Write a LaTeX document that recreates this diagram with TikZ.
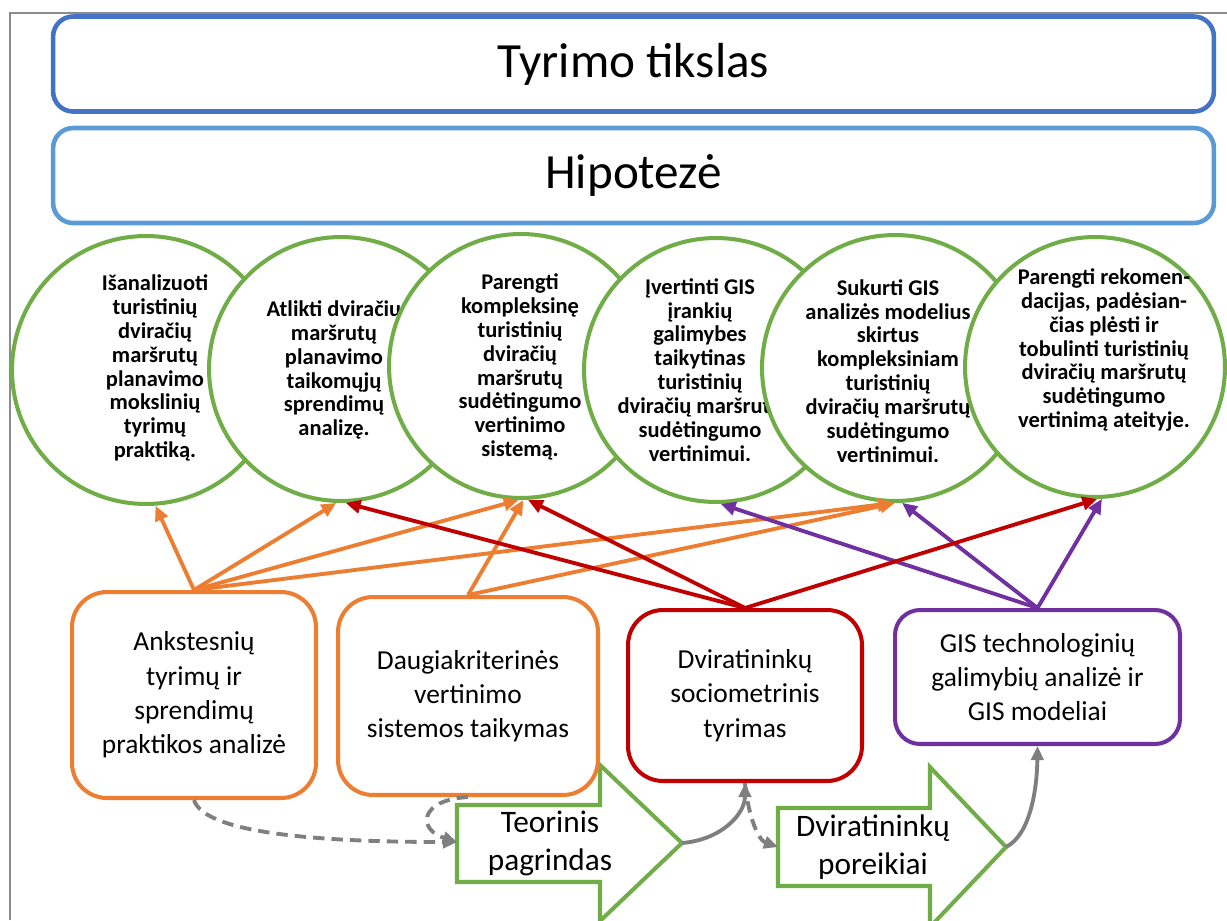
\documentclass[tikz,border=0pt]{standalone}
\usepackage{fontspec}
\setmainfont{Carlito}
\usetikzlibrary{arrows.meta}
\definecolor{titleblue}{RGB}{68,114,196}
\definecolor{hypblue}{RGB}{91,155,213}
\definecolor{goalgreen}{RGB}{112,173,71}
\definecolor{srcorange}{RGB}{237,125,49}
\definecolor{srcred}{RGB}{192,0,0}
\definecolor{srcpurple}{RGB}{112,48,160}
\definecolor{linkgray}{RGB}{127,127,127}
\definecolor{framegray}{RGB}{140,140,140}
\begin{document}
\begin{tikzpicture}[x=0.02cm,y=-0.02cm,
  headbox/.style={draw=#1, line width=2.6pt, rounded corners=0.4cm, fill=white,
    inner sep=0pt, minimum width=23.22cm, minimum height=1.9cm,
    font=\fontsize{28}{34}\selectfont},
  goal/.style={circle, draw=goalgreen, line width=2.3pt, fill=white,
    minimum size=#1, inner sep=0pt},
  goaltext/.style={align=center, inner sep=0pt,
    font=\bfseries\fontsize{12.8}{13.6}\selectfont},
  srcbox/.style={draw=#1, line width=2.3pt, rounded corners=0.7cm, fill=white,
    align=center, inner sep=0pt, font=\fontsize{15.6}{19.5}\selectfont},
  flow/.style={draw=goalgreen, line width=2.3pt, fill=white, line join=miter},
  flowtext/.style={align=center, inner sep=0pt, font=\fontsize{17.8}{21.6}\selectfont},
  link/.style={draw=#1, line width=2.2pt, -{Triangle[length=8.5pt,width=7.5pt]}},
  graylink/.style={draw=linkgray, line width=2.2pt, -{Triangle[length=8pt,width=7pt]}},
  dashlink/.style={graylink, dash pattern=on 6.5pt off 4pt},
]
\useasboundingbox (0,0) rectangle (1227,920);
% page frame
\draw[framegray, line width=1.1pt] (10,920) -- (10,13) -- (1227,13);

% aim and hypothesis
\node[headbox=titleblue] (aim) at (633.5,64) {Tyrimo tikslas};
\node[headbox=hypblue] (hyp) at (633.5,175.5) {Hipotezė};

% task circles, each overlapping the previous one
\node[goal=5.36cm] (g1) at (146,370) {};
\node[goaltext] (g1t) at (155,368) {Išanalizuoti\\turistinių\\dviračių\\maršrutų\\planavimo\\mokslinių\\tyrimų\\praktiką.};
\node[goal=5.28cm] (g2) at (341,369) {};
\node[goaltext] (g2t) at (334,370) {Atlikti dviračių\\maršrutų\\planavimo\\taikomųjų\\sprendimų\\analizę.};
\node[goal=5.28cm] (g3) at (521,366) {};
\node[goaltext] (g3t) at (520,367) {Parengti\\kompleksinę\\turistinių\\dviračių\\maršrutų\\sudėtingumo\\vertinimo\\sistemą.};
\node[goal=5.28cm] (g4) at (716,370) {};
\node[goaltext] (g4t) at (700,370) {Įvertinti GIS\\įrankių\\galimybes\\taikytinas\\turistinių\\dviračių maršrutų\\sudėtingumo\\vertinimui.};
\node[goal=5.32cm] (g5) at (895,368) {};
\node[goaltext] (g5t) at (888,371) {Sukurti GIS\\analizės modelius\\skirtus\\kompleksiniam\\turistinių\\dviračių maršrutų\\sudėtingumo\\vertinimui.};
\node[goal=5.2cm] (g6) at (1095,367) {};
\node[goaltext] (g6t) at (1104,350) {Parengti rekomen-\\dacijas, padėsian-\\čias plėsti ir\\tobulinti turistinių\\dviračių maršrutų\\sudėtingumo\\vertinimą ateityje.};

% result arrows
\draw[flow] (457,805) -- (600,805) -- (600,765) -- (682,843) -- (600,921) -- (600,882) -- (457,882) -- cycle;
\coordinate (f1in) at (457,842);
\coordinate (f1tip) at (682,843);
\node[flowtext] (f1t) at (550,843) {Teorinis\\pagrindas};
\draw[flow] (778,808) -- (930,808) -- (930,767) -- (1006,847) -- (930,927) -- (930,886) -- (778,886) -- cycle;
\coordinate (f2in) at (778,847);
\coordinate (f2tip) at (1006,847);
\node[flowtext] (f2t) at (873,847) {Dviratininkų\\poreikiai};

% method boxes
\node[srcbox=srcorange, minimum width=4.88cm, minimum height=4.12cm] (s1) at (194,695)
  {Ankstesnių\\tyrimų ir\\sprendimų\\praktikos analizė};
\node[srcbox=srcorange, minimum width=5.2cm, minimum height=3.96cm] (s2) at (468,696)
  {Daugiakriterinės\\vertinimo\\sistemos taikymas};
\node[srcbox=srcred, minimum width=4.68cm, minimum height=3.42cm] (s3) at (745,695.5)
  {Dviratininkų\\sociometrinis\\tyrimas};
\node[srcbox=srcpurple, rounded corners=0.5cm, minimum width=5.7cm, minimum height=2.68cm] (s4) at (1037.5,677)
  {GIS technologinių\\galimybių analizė ir\\GIS modeliai};

% method -> task links
\draw[link=srcorange] (s1.north) -- (g1.274);
\draw[link=srcorange] (s1.north) -- (g2.268);
\draw[link=srcorange] (s1.north) -- (g3.269);
\draw[link=srcorange] (s1.north) -- (g5.269);
\draw[link=srcorange] (s2.north) -- (g3.271);
\draw[link=srcorange] (s2.north) -- (g5.270);
\draw[link=srcpurple] (s4.north) -- (g4.272);
\draw[link=srcpurple] (s4.north) -- (g5.273);
\draw[link=srcpurple] (s4.north) -- (g6.273);
\draw[link=srcred] (s3.north) -- (g2.272);
\draw[link=srcred] (s3.north) -- (g3.273);
\draw[link=srcred] (s3.north) -- (g6.271);

% flow connectors
\draw[dashlink] (s1.south) .. controls (205,835) and (330,842) .. (f1in);
\draw[dashlink] (s2.south) .. controls (418,800) and (418,830) .. (f1in);
\draw[graylink] (f1tip) .. controls (720,840) and (745,815) .. (s3.south);
\draw[dashlink] (s3.south) .. controls (748,815) and (758,840) .. (f2in);
\draw[graylink] (f2tip) .. controls (1030,835) and (1037,790) .. (s4.south);
\end{tikzpicture}
\end{document}
